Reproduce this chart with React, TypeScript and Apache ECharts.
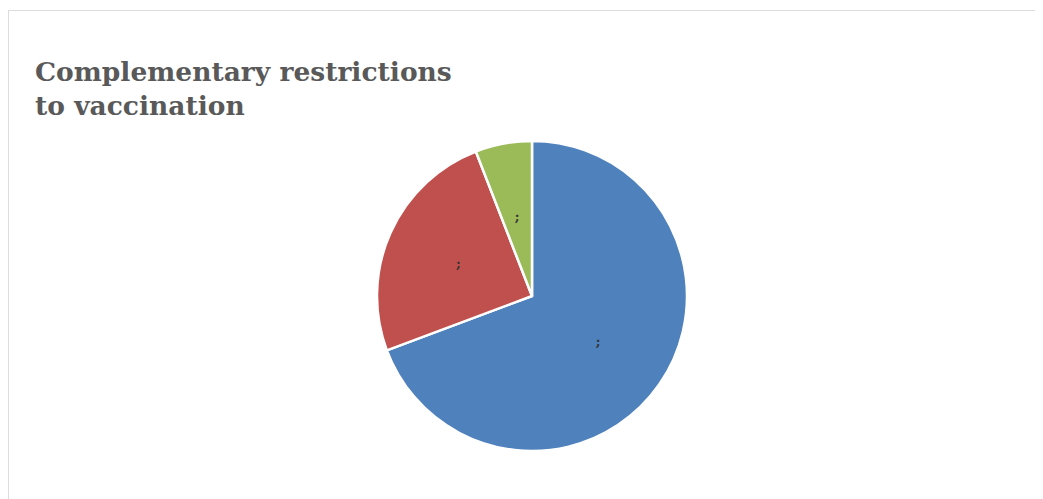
import React, { useEffect, useRef } from "react";
import * as echarts from "echarts";

const categories = ["A", "B", "C"];
const values = [69.3, 24.8, 5.9];
const colors = ["#4F81BD", "#C0504D", "#9BBB59"];
const titleText = "Complementary restrictions\nto vaccination";

export default function App() {
  const ref = useRef<HTMLDivElement>(null);
  useEffect(() => {
    document.documentElement.style.overflow = "hidden";
    document.body.style.overflow = "hidden";
    if (!ref.current) return;
    const chart = echarts.init(ref.current, null, { renderer: "svg" });
    chart.setOption({
      animation: false,
      title: {
        text: titleText,
        left: 21,
        top: 38,
        textStyle: {
          fontFamily: "DejaVu Serif",
          fontWeight: "bold",
          fontSize: 26.5,
          lineHeight: 34,
          color: "#595959",
        },
      },
      series: [
        {
          type: "pie",
          center: [523, 285],
          radius: 155,
          startAngle: 90,
          clockwise: true,
          data: categories.map((c, i) => ({
            name: c,
            value: values[i],
            itemStyle: { color: colors[i] },
          })),
          itemStyle: { borderColor: "#ffffff", borderWidth: 2.5 },
          label: {
            show: true,
            position: "inside",
            formatter: ";",
            color: "#333333",
            fontFamily: "DejaVu Serif",
            fontWeight: "bold",
            fontSize: 13,
          },
          labelLine: { show: false },
        },
      ],
    });
    return () => chart.dispose();
  }, []);
  return (
    <div
      style={{
        marginTop: 2,
        width: 1100,
        height: 520,
        borderTop: "1px solid #dcdcdc",
        borderLeft: "1px solid #dcdcdc",
      }}
    >
      <div ref={ref} style={{ width: 900, height: 489 }} />
    </div>
  );
}
